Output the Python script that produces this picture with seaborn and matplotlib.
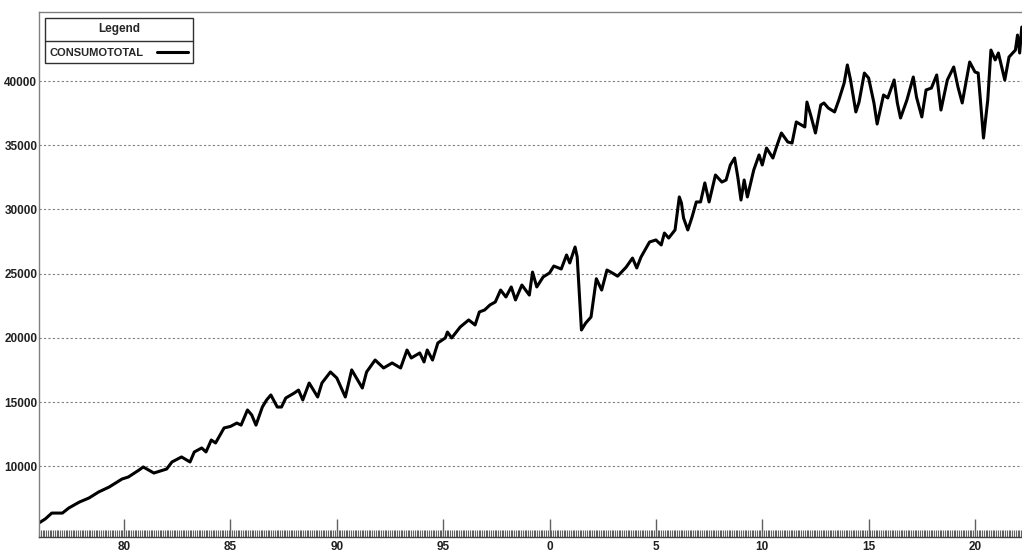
import matplotlib
matplotlib.use("Agg")
import matplotlib.pyplot as plt
import matplotlib.ticker as mtick
from matplotlib.lines import Line2D
from matplotlib.transforms import IdentityTransform
import seaborn as sns
import pandas as pd

# fechas en años decimales y valores
anios = [
    1976.00, 1976.30, 1976.60, 1977.10, 1977.40, 1977.90, 1978.35, 1978.80,
    1979.30, 1979.90, 1980.20, 1980.70, 1980.90, 1981.10, 1981.40, 1982.00,
    1982.25, 1982.70, 1983.10, 1983.30, 1983.65, 1983.85, 1984.10, 1984.30,
    1984.70, 1985.00, 1985.30, 1985.50, 1985.80, 1986.00, 1986.20, 1986.50,
    1986.70, 1986.90, 1987.20, 1987.40, 1987.60, 1988.00, 1988.20, 1988.40,
    1988.70, 1989.10, 1989.30, 1989.70, 1990.00, 1990.40, 1990.70, 1991.20,
    1991.40, 1991.80, 1992.20, 1992.60, 1993.00, 1993.30, 1993.50, 1993.90,
    1994.10, 1994.25, 1994.50, 1994.75, 1995.10, 1995.20, 1995.40, 1995.80,
    1996.20, 1996.50, 1996.70, 1996.95, 1997.20, 1997.45, 1997.70, 1997.95,
    1998.20, 1998.40, 1998.70, 1999.05, 1999.20, 1999.40, 1999.70, 2000.00,
    2000.20, 2000.55, 2000.80, 2000.95, 2001.20, 2001.30, 2001.50, 2001.70,
    2001.95, 2002.20, 2002.45, 2002.70, 2002.95, 2003.20, 2003.60, 2003.90,
    2004.10, 2004.30, 2004.70, 2005.00, 2005.25, 2005.40, 2005.60, 2005.90,
    2006.10, 2006.20, 2006.30, 2006.50, 2006.70, 2006.90, 2007.10, 2007.30,
    2007.50, 2007.80, 2008.10, 2008.30, 2008.50, 2008.70, 2008.85, 2009.00,
    2009.15, 2009.30, 2009.60, 2009.85, 2010.00, 2010.20, 2010.50, 2010.70,
    2010.90, 2011.20, 2011.40, 2011.60, 2012.00, 2012.10, 2012.30, 2012.50,
    2012.75, 2012.90, 2013.10, 2013.40, 2013.60, 2013.85, 2014.00, 2014.15,
    2014.40, 2014.55, 2014.80, 2015.00, 2015.25, 2015.40, 2015.70, 2015.90,
    2016.20, 2016.35, 2016.50, 2016.80, 2017.10, 2017.25, 2017.50, 2017.70,
    2017.95, 2018.20, 2018.40, 2018.70, 2019.00, 2019.20, 2019.40, 2019.75,
    2020.00, 2020.15, 2020.40, 2020.60, 2020.75, 2020.95, 2021.10, 2021.40,
    2021.60, 2021.90, 2022.00, 2022.10, 2022.20,
]
consumo = [
    5580, 5900, 6350, 6350, 6745, 7210, 7525, 7990,
    8380, 9000, 9160, 9700, 9940, 9750, 9470, 9780,
    10330, 10720, 10330, 11110, 11420, 11110, 12040, 11810,
    12980, 13100, 13360, 13200, 14380, 13990, 13200, 14610,
    15160, 15550, 14610, 14610, 15310, 15700, 15930, 15160,
    16480, 15390, 16480, 17340, 16870, 15390, 17500, 16090,
    17340, 18270, 17650, 18040, 17650, 19050, 18430, 18820,
    18120, 19050, 18270, 19600, 19990, 20450, 19990, 20840,
    21390, 21000, 22010, 22170, 22560, 22790, 23720, 23180,
    23960, 22950, 24110, 23330, 25120, 23960, 24740, 25050,
    25590, 25360, 26450, 25830, 27070, 26290, 20610, 21150,
    21620, 24600, 23720, 25280, 25050, 24800, 25500, 26210,
    25440, 26290, 27460, 27620, 27230, 28160, 27770, 28400,
    30970, 30500, 29330, 28400, 29410, 30580, 30580, 32060,
    30580, 32680, 32130, 32290, 33460, 34000, 32520, 30730,
    32290, 30970, 33070, 34240, 33460, 34780, 34000, 35020,
    35950, 35250, 35170, 36810, 36420, 38360, 37200, 35950,
    38130, 38290, 37900, 37590, 38520, 39840, 41250, 40080,
    37590, 38360, 40620, 40230, 38290, 36650, 38910, 38680,
    40080, 38290, 37120, 38520, 40310, 38750, 37200, 39300,
    39450, 40470, 37740, 40080, 41090, 39530, 38290, 41480,
    40700, 40620, 35560, 38520, 42410, 41640, 42180, 40080,
    41870, 42410, 43580, 42180, 44200,
]
anios_etiqueta = [1980, 1985, 1990, 1995, 2000, 2005, 2010, 2015, 2020]
valores_y = [10000, 15000, 20000, 25000, 30000, 35000, 40000]

df = pd.DataFrame({"fecha": anios, "CONSUMOTOTAL": consumo})

sns.set_style("white")
plt.rcParams['font.family'] = ['Liberation Sans', 'DejaVu Sans']
plt.rcParams['font.weight'] = 'bold'

fig = plt.figure(figsize=(10.22, 5.54), dpi=100)
ax = fig.add_axes([39 / 1022, 17 / 554, 983 / 1022, 525 / 554])

sns.lineplot(data=df, x="fecha", y="CONSUMOTOTAL", color="black",
             linewidth=2.2, ax=ax, label="CONSUMOTOTAL")

ax.set_xlim(1976.0, 2022.21)
ax.set_ylim(4487, 45374)
ax.set_xlabel("")
ax.set_ylabel("")

ax.xaxis.set_major_locator(mtick.FixedLocator(anios_etiqueta))
ax.xaxis.set_major_formatter(mtick.FuncFormatter(lambda v, p: f"{int(round(v)) % 100}"))
ax.xaxis.set_minor_locator(mtick.MultipleLocator(1 / 12))
ax.yaxis.set_major_locator(mtick.FixedLocator(valores_y))
ax.yaxis.set_major_formatter(mtick.FuncFormatter(lambda v, p: f"{int(v)}"))

ax.tick_params(axis='x', which='both', bottom=True, top=False)
ax.tick_params(axis='x', which='major', direction='in', length=13, width=1,
               color='#606060', pad=3, labelsize=8.5, labelcolor='#202020')
ax.tick_params(axis='x', which='minor', direction='in', length=5, width=0.8,
               color='#606060')
ax.tick_params(axis='y', left=False, length=0, pad=1.2, labelsize=8.5,
               labelcolor='#202020')

ax.grid(axis='y', color='#808080', linestyle=(0, (2, 2)), linewidth=0.8)
ax.grid(axis='x', visible=False)

for lado in ['left', 'top']:
    ax.spines[lado].set_color('#808080')
    ax.spines[lado].set_linewidth(1)
ax.spines['bottom'].set_color('#404040')
ax.spines['bottom'].set_linewidth(1)
ax.spines['right'].set_visible(False)

leg = ax.legend(loc='upper left', bbox_to_anchor=(6 / 983, 1 - 6 / 525),
                borderaxespad=0, title='Legend', markerfirst=False,
                handlelength=2.8, handletextpad=1.2, frameon=True,
                fancybox=False, edgecolor='#303030', framealpha=1,
                fontsize=8, title_fontsize=8.5, borderpad=0.45,
                labelspacing=0.5)
leg.get_frame().set_linewidth(1)
leg._legend_box.sep = 9

# linea separadora bajo el titulo de la leyenda
fig.canvas.draw()
caja = leg.get_frame().get_window_extent()
tit = leg.get_title().get_window_extent()
txt = leg.get_texts()[0].get_window_extent()
y_sep = (tit.y0 + txt.y1) / 2
fig.add_artist(Line2D([caja.x0, caja.x1], [y_sep, y_sep], color='#303030',
                      linewidth=1, transform=IdentityTransform()))

plt.savefig("out.png", dpi=100)
